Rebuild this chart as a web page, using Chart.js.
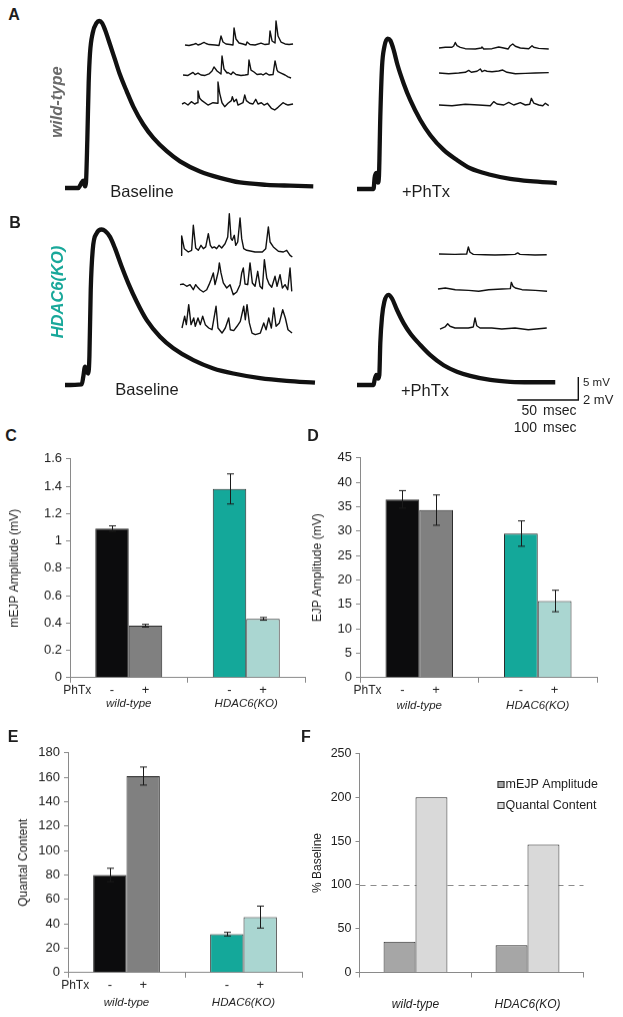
<!DOCTYPE html>
<html>
<head>
<meta charset="utf-8">
<title>HDAC6(KO) PhTx homeostasis</title>
<script src="https://cdn.jsdelivr.net/npm/chart.js@4.4.1/dist/chart.umd.min.js"></script>
<style>
  body { margin: 0; background: #fff; }
  #fig { position: relative; width: 623px; height: 1017px; overflow: hidden; background: #fff;
         font-family: 'Liberation Sans', Arial, sans-serif; color: #1e1e1e; }
  .box { position: absolute; }
  .box canvas { display: block; }
  .txt { position: absolute; white-space: nowrap; line-height: 1; }
</style>
</head>
<body>
<div id="fig"></div>
<script>
// ---- Datos: registros EJP (ms, mV) ----
const ejpWtBaseT = [0, 10.9, 12.3, 13.7, 15, 16.4, 17.2, 18.3, 19.4, 20.5, 22.7, 25.9, 28.1, 30.3, 32.8, 36.9, 41, 45.1, 50.6, 56, 64.2, 72.4, 83.4, 94.3, 110.7, 127, 143.4, 165.3, 184.4, 203.5];
const ejpWtBaseV = [0, 0, 0.5, 1.2, 1.6, 0.35, 1.2, 10.5, 22.8, 29.3, 33.7, 35.9, 36.3, 35.9, 34.4, 31.2, 27.9, 24.6, 21, 17.7, 13.8, 10.9, 8, 5.8, 3.6, 2.2, 1.2, 0.7, 0.5, 0.35];
const ejpWtPhtxT = [0, 13.6, 14.4, 15.8, 17.2, 18, 19.1, 20.5, 22.4, 25.1, 27.3, 30.1, 33.3, 38.3, 43.7, 51.9, 60.1, 71, 81.9, 92.8, 109.3, 125.6, 142, 163.8];
const ejpWtPhtxV = [0, 0, 2.4, 3.5, 1.4, 2.8, 15.7, 26.5, 30.9, 32.7, 32.3, 30.2, 26.9, 22.9, 19.3, 15, 11.7, 8.5, 6.3, 4.5, 3.1, 2.2, 1.7, 1.3];
const ejpKoBaseT = [0, 13.7, 15, 16.4, 17.8, 19.1, 20, 21.1, 22.7, 26, 30.1, 32.8, 36.9, 41, 46.5, 51.9, 58.8, 67, 77.9, 88.8, 105.2, 121.6, 138, 159.8, 181.7, 204.9];
const ejpKoBaseV = [0, 0.15, 1.8, 4, 2.9, 2.5, 6.2, 20.7, 29.3, 33, 33.8, 33.5, 32.2, 29.7, 25.7, 22.1, 18.1, 14.1, 10.5, 8, 5.4, 3.6, 2.5, 1.5, 0.9, 0.5];
const ejpKoPhtxT = [0, 13.6, 14.4, 15.8, 17.2, 18.3, 19.1, 20.5, 22.4, 25.9, 28.7, 32.8, 38.3, 43.7, 51.9, 60.1, 71, 81.9, 92.8, 109.3, 125.6, 142, 162.5];
const ejpKoPhtxV = [0, 0, 1.1, 2.2, 1.4, 2.2, 9.1, 14.8, 18.1, 19.6, 18.8, 16.3, 13.4, 11.2, 8.7, 6.5, 4.3, 2.9, 2, 1.1, 0.7, 0.6, 0.6];

// ---- Datos: registros mEJP (ms, mV) ----
const miniWtBase1T = [0, 6.6, 13.1, 18, 21.3, 26.2, 31.2, 34.4, 39.4, 49.2, 55.8, 59, 62.3, 67.2, 73.8, 78.7, 80.4, 83.6, 88.6, 95.1, 100, 101.7, 106.6, 114.8, 124.6, 131.2, 137.8, 139.4, 142.7, 147.6, 149.2, 152.5, 157.4, 164, 170.6, 177.1];
const miniWtBase1V = [0, -0.04, 0.04, 0.13, 0, 0.09, 0.22, 0.13, 0.04, 0, -0.04, 0.78, 0.26, 0.09, 0.04, 0, 1.48, 0.52, 0.17, 0.09, 0, 0.26, 0.04, 0, 0.17, 0.04, 0.09, 1.22, 0.35, 0.17, 2.09, 0.78, 0.26, 0.09, 0.04, 0.09];
const miniWtBase2T = [0, 8.2, 16.4, 19.7, 24.6, 29.5, 36.1, 42.6, 47.6, 50.8, 55.8, 62.3, 64, 67.2, 72.2, 73.8, 78.7, 82, 86.9, 95.1, 101.7, 106.6, 108.2, 111.5, 116.4, 121.4, 127.9, 131.2, 136.1, 141, 147.6, 150.9, 154.2, 155.8, 160.7, 167.3, 172.2, 177.1];
const miniWtBase2V = [0, -0.04, 0.23, 0.04, 0.17, 0, -0.04, 0.09, 0.35, 0.7, 0.35, 0.09, 1.65, 0.52, 0.17, 0.22, 0.04, 0.26, 0.04, -0.04, 0, 0.04, 1.3, 0.43, 0.26, 0.04, 0.09, 0, 0.17, 0, 0.04, 1.22, 0.43, 0.3, 0.17, 0, -0.17, -0.26];
const miniWtBase3T = [0, 4.4, 9.8, 15.3, 20.8, 25.1, 26.2, 29, 32.8, 42.6, 50.8, 57.9, 59, 61.8, 65.6, 70, 75.4, 80.9, 82.5, 85.3, 89.1, 91.8, 100, 102.8, 105.5, 111, 116.4, 120.9, 124.6, 130.1, 134.5, 139.9, 146.5, 152, 157.4, 165.6, 169.4, 173.8, 182];
const miniWtBase3V = [0, 0.11, -0.09, 0.2, 0, 0.11, 1.13, 0.5, 0.29, -0.09, 0.11, 0.06, 1.91, 0.93, 0.11, -0.23, 0.06, 0.29, 0.64, 0.2, 0.41, -0.09, 0.11, 0.78, 0.29, 0.06, 0, 0.41, 0, 0.11, -0.09, 0.06, -0.37, -0.52, -0.29, 0.11, 0, -0.09, 0];
const miniWtPhtx1T = [0, 10.3, 21.3, 24.1, 26.7, 29.5, 34.9, 43.1, 59.5, 69.4, 70.5, 73.3, 86.9, 97.9, 106.1, 113.2, 116.9, 120.9, 125.1, 133.3, 147.1, 152.5, 155.3, 163.5, 179.9];
const miniWtPhtx1V = [0, 0.06, 0.06, 0.17, 0.48, 0.2, 0.06, -0.06, -0.09, 0, 0.09, -0.09, -0.06, 0.09, 0, -0.09, 0.2, 0.35, 0.15, 0, -0.06, 0.2, 0.06, -0.03, -0.09];
const miniWtPhtx2T = [0, 15.9, 32.3, 43.1, 48.7, 53, 62.3, 67.7, 70.5, 74.9, 78.7, 86.9, 97.9, 104.5, 111.5, 125.1, 141.5, 157.9, 179.9];
const miniWtPhtx2V = [0, -0.06, 0, 0.06, 0.23, 0.06, 0.15, 0.35, 0.11, 0.23, 0.15, 0.11, 0.17, 0.26, 0.06, -0.06, -0.03, 0, 0.03];
const miniWtPhtx3T = [0, 21.3, 43.1, 65.1, 84.1, 89.7, 95.1, 106.1, 114.3, 122.5, 133.3, 141.5, 148.7, 151.4, 155.3, 163.5, 170.1, 174.3, 179.9];
const miniWtPhtx3V = [0, -0.06, 0.06, 0, -0.06, 0.29, 0.09, 0, 0.23, 0, 0.2, 0, 0.06, 0.58, 0.17, 0, -0.06, 0.15, -0.06];
const miniKoBase1T = [0, 1.1, 5.4, 12, 17.5, 20.2, 24.1, 28.4, 32.8, 36.6, 40.5, 44.8, 48.1, 51.3, 54.6, 58.5, 62.3, 66.7, 72.2, 76.6, 79.2, 82, 84.1, 87.4, 89.7, 93, 96.8, 99.5, 102.8, 107.7, 121.4, 133.3, 138.9, 143.2, 146, 151.4, 159.6, 167.8, 173.3, 178.8, 182.5];
const miniKoBase1V = [-0.29, 1.39, 0.29, 0, 0.15, 2.32, 0.35, 0.15, 0.58, 0.29, 0.44, 1.59, 0.58, 0.35, 0.44, 0.29, 0.58, 0.35, 0.72, 1.31, 3.33, 1.16, 1.02, 1.45, 0.58, 0.87, 2.96, 1.16, 0.29, 0.15, 0, 0, 0.29, 2.18, 0.87, 0.44, 0.06, 0, 0.15, -0.29, -0.44];
const miniKoBase2T = [0, 5.4, 11, 16.4, 21.8, 25.7, 29, 32.8, 38.2, 43.8, 47.6, 50.8, 54.6, 57.4, 60.2, 62.8, 64.5, 67.2, 71, 76.6, 82, 87.4, 93, 98.4, 101.2, 103.8, 106.6, 111, 114.8, 118.6, 123, 127.4, 131.2, 135, 138.3, 142.2, 146, 150.4, 155.8, 159.1, 164, 167.8, 172.2, 176.6, 180.4, 183.2];
const miniKoBase2V = [0.29, 0.35, 0.15, 0.29, -0.15, 0.29, 0.06, -0.15, -0.35, -0.15, 0.29, 0.72, 1.31, 0.29, 0.87, 1.45, 2.18, 1.31, 0.44, 0, 0.29, -0.58, -0.35, 0.29, 1.31, 1.74, 0.35, 0.29, 2.18, 0.44, 0.15, 1.45, 0.15, -0.06, 2.46, 0.87, 0.35, 0.06, 1.02, 0.15, 1.16, 0, 0.29, -0.15, 1.74, -0.29];
const miniKoBase3T = [0, 4.4, 7.1, 11, 14.8, 19.2, 21.8, 26.2, 30, 33.9, 38.2, 43.8, 49.2, 55.8, 59, 65.6, 71, 76.6, 79.2, 84.8, 90.2, 95.6, 101.2, 103.8, 106.6, 110.4, 114.8, 120.2, 128.4, 134, 137.8, 142.2, 146.5, 150.4, 154.2, 159.6, 165.1, 169.4, 173.8, 180.4];
const miniKoBase3V = [0, 1.02, 0.29, 2.03, 0.29, 0.87, 0.15, 0.87, 0.29, 1.02, 0.29, 0, -0.15, 1.89, 0, -0.44, 0, 0.87, -0.15, -0.23, 0.15, 0.58, 1.89, 0.72, 2.03, 0.44, -0.44, -0.58, -0.44, 0.44, -0.15, 0.87, 0, 1.74, 0.15, 0.44, 1.59, 0.87, -0.15, -0.44];
const miniKoPhtx1T = [0, 26.2, 45.4, 48.1, 50.8, 56.3, 75.4, 91.8, 108.2, 124.6, 129, 132.8, 157.4, 176.6];
const miniKoPhtx1V = [0, -0.03, 0, 0.61, 0.15, -0.03, -0.06, -0.09, -0.06, -0.03, 0.09, -0.03, -0.09, -0.06];
const miniKoPhtx2T = [0, 12, 28.4, 50.3, 66.7, 83.1, 105, 118.6, 120.2, 123, 126.8, 137.8, 159.6, 178.8];
const miniKoPhtx2V = [0, 0.09, -0.06, -0.12, -0.2, -0.06, 0, 0.03, 0.58, 0.23, 0.09, -0.06, -0.12, -0.2];
const miniKoPhtx3T = [0, 8.2, 12.6, 16.4, 24.6, 46.4, 54.6, 57.4, 60.2, 65.6, 84.8, 101.2, 123, 144.8, 175];
const miniKoPhtx3V = [-0.09, 0.09, 0.37, 0.15, 0, 0, 0.09, 0.87, 0.2, 0, 0, -0.09, 0, -0.15, 0];

// barras de escala
const scaleBarMs = 50;
const scaleBarMv = 5;

// ---- Datos: graficas de barras ----
const groups = ['wild-type', 'HDAC6(KO)'];
const phtxMarks = ['-', '+'];

const mejpCtrl = [1.09, 1.38];
const mejpPhtx = [0.38, 0.43];
const mejpCtrlErr = [0.02, 0.11];
const mejpPhtxErr = [0.01, 0.01];
const mejpTicks = [0, 0.2, 0.4, 0.6, 0.8, 1, 1.2, 1.4, 1.6];

const ejpCtrl = [36.5, 29.5];
const ejpPhtx = [34.3, 15.7];
const ejpCtrlErr = [1.8, 2.6];
const ejpPhtxErr = [3.1, 2.2];
const ejpTicks = [0, 5, 10, 15, 20, 25, 30, 35, 40, 45];

const qcCtrl = [80, 31.5];
const qcPhtx = [161, 45.5];
const qcCtrlErr = [5.5, 1.5];
const qcPhtxErr = [7.4, 9];
const qcTicks = [0, 20, 40, 60, 80, 100, 120, 140, 160, 180];

const pctMejp = [35, 31];
const pctQc = [200, 146];
const pctRef = 100;
const pctTicks = [0, 50, 100, 150, 200, 250];

const ctrlColors = ['#0c0c0d', '#14a89a'];
const phtxColors = ['#808080', '#aad6d1'];
const FONT = "'Liberation Sans', Arial, sans-serif";
const ink = '#1e1e1e';
const axisGray = '#8a8a8a';

Chart.defaults.font.family = FONT;
const fig = document.getElementById('fig');

// 1. Utilidades de posicionamiento
function addBox(l, t, w, h) {
    const box = document.createElement('div');
    box.className = 'box';
    box.appendChild(document.createElement('canvas'));
    fig.appendChild(box);
    setBox(box, l, t, w, h);
    return box;
}
function setBox(box, l, t, w, h) {
    box.style.left = l + 'px';
    box.style.top = t + 'px';
    box.style.width = w + 'px';
    box.style.height = h + 'px';
}
function addText(str, x, y, s) {
    const d = document.createElement('div');
    d.className = 'txt';
    d.textContent = str;
    d.style.left = x + 'px';
    d.style.top = y + 'px';
    d.style.fontSize = s.size + 'px';
    if (s.bold) d.style.fontWeight = 'bold';
    if (s.italic) d.style.fontStyle = 'italic';
    if (s.color) d.style.color = s.color;
    const sx = { c: '-50%', l: '0', r: '-100%' }[s.anchor || 'c'];
    d.style.transform = `translate(${sx},-50%)` + (s.rotate ? ' rotate(-90deg)' : '');
    fig.appendChild(d);
}

// 2. Trazos (EJP y mEJP) como graficas de linea sin ejes
function trace(t, v, width, smooth) {
    return {
        data: t.map((x, i) => ({ x, y: v[i] })),
        borderColor: '#111', borderWidth: width, pointRadius: 0, fill: false,
        tension: 0, cubicInterpolationMode: smooth ? 'monotone' : 'default',
        borderJoinStyle: 'round'
    };
}
function traceChart(rect, x0, y0, k, sets) {
    const box = addBox(rect.l, rect.t, rect.w, rect.h);
    new Chart(box.firstChild, {
        type: 'line',
        data: { datasets: sets },
        options: {
            responsive: true, maintainAspectRatio: false, animation: false, events: [],
            layout: { padding: 0 },
            plugins: { legend: { display: false }, tooltip: { enabled: false } },
            scales: {
                x: { type: 'linear', display: false, min: (rect.l - x0) / k.x, max: (rect.l + rect.w - x0) / k.x },
                y: { type: 'linear', display: false, min: (y0 - rect.t - rect.h) / k.y, max: (y0 - rect.t) / k.y }
            }
        }
    });
}

const EJP_K = { x: 1.22, y: 4.6 };     // px por ms, px por mV
const MINI_K = { x: 0.61, y: 11.5 };

const ejps = [
    { t: ejpWtBaseT, v: ejpWtBaseV, x0: 65, y0: 188.3 },
    { t: ejpWtPhtxT, v: ejpWtPhtxV, x0: 356.7, y0: 189.3 },
    { t: ejpKoBaseT, v: ejpKoBaseV, x0: 65, y0: 385 },
    { t: ejpKoPhtxT, v: ejpKoPhtxV, x0: 356.7, y0: 385, bar: true }
];
ejps.forEach(e => {
    const sets = [trace(e.t, e.v, 4.3, true)];
    if (e.bar) {
        // esquina de la barra de escala en (578, 400)
        const cT = (578 - e.x0) / EJP_K.x, cV = (e.y0 - 400) / EJP_K.y;
        sets.push({
            data: [{ x: cT - scaleBarMs, y: cV }, { x: cT, y: cV }, { x: cT, y: cV + scaleBarMv }],
            borderColor: '#111', borderWidth: 1.4, pointRadius: 0, tension: 0
        });
    }
    traceChart({ l: e.x0 - 6, t: e.y0 - 175, w: 260, h: 195 }, e.x0, e.y0, EJP_K, sets);
});

const minis = [
    { t: miniWtBase1T, v: miniWtBase1V, x0: 185, y0: 45 },
    { t: miniWtBase2T, v: miniWtBase2V, x0: 183, y0: 75.3 },
    { t: miniWtBase3T, v: miniWtBase3V, x0: 182, y0: 103.5 },
    { t: miniWtPhtx1T, v: miniWtPhtx1V, x0: 439, y0: 48 },
    { t: miniWtPhtx2T, v: miniWtPhtx2V, x0: 439, y0: 73.3 },
    { t: miniWtPhtx3T, v: miniWtPhtx3V, x0: 439, y0: 105 },
    { t: miniKoBase1T, v: miniKoBase1V, x0: 181, y0: 251.7 },
    { t: miniKoBase2T, v: miniKoBase2V, x0: 180, y0: 288.3 },
    { t: miniKoBase3T, v: miniKoBase3V, x0: 181.7, y0: 328.3 },
    { t: miniKoPhtx1T, v: miniKoPhtx1V, x0: 439, y0: 254.3 },
    { t: miniKoPhtx2T, v: miniKoPhtx2V, x0: 437.7, y0: 289.3 },
    { t: miniKoPhtx3T, v: miniKoPhtx3V, x0: 440, y0: 328.3 }
];
minis.forEach(m => {
    traceChart({ l: m.x0 - 4, t: m.y0 - 45, w: 122, h: 58 }, m.x0, m.y0, MINI_K, [trace(m.t, m.v, 1.4, false)]);
});

// 3. Graficas de barras
function decor(cfg) {
    return {
        id: 'decor',
        beforeDatasetsDraw(chart) {
            if (cfg.refLine == null) return;
            const { ctx, chartArea: ca, scales: { y } } = chart;
            const py = Math.round(y.getPixelForValue(cfg.refLine)) + 0.5;
            ctx.save();
            ctx.strokeStyle = '#8c8c8c';
            ctx.lineWidth = 1;
            ctx.setLineDash([6, 5]);
            ctx.beginPath();
            ctx.moveTo(ca.left, py);
            ctx.lineTo(ca.right, py);
            ctx.stroke();
            ctx.restore();
        },
        afterDatasetsDraw(chart) {
            const { ctx, chartArea: ca, scales: { y } } = chart;
            ctx.save();
            ctx.textAlign = 'center';
            ctx.textBaseline = 'middle';
            chart.data.datasets.forEach((ds, i) => {
                chart.getDatasetMeta(i).data.forEach((bar, j) => {
                    if (ds.err) {
                        const top = y.getPixelForValue(ds.data[j] + ds.err[j]);
                        const bot = y.getPixelForValue(ds.data[j] - ds.err[j]);
                        const x = Math.round(bar.x) + 0.5;
                        ctx.strokeStyle = '#1a1a1a';
                        ctx.lineWidth = 1;
                        ctx.beginPath();
                        ctx.moveTo(x, top); ctx.lineTo(x, bot);
                        ctx.moveTo(x - 3.5, top); ctx.lineTo(x + 3.5, top);
                        ctx.moveTo(x - 3.5, bot); ctx.lineTo(x + 3.5, bot);
                        ctx.stroke();
                    }
                    if (cfg.marks) {
                        ctx.fillStyle = ink;
                        ctx.font = '13px ' + FONT;
                        ctx.fillText(phtxMarks[i], bar.x, ca.bottom + 13);
                    }
                });
            });
            if (cfg.marks) {
                const first = chart.getDatasetMeta(0).data[0];
                ctx.textAlign = 'right';
                ctx.font = '12px ' + FONT;
                ctx.fillText('PhTx', first.x - first.width / 2 - 4, ca.bottom + 13);
            }
            if (cfg.legend) {
                ctx.textAlign = 'left';
                ctx.font = '12.5px ' + FONT;
                chart.data.datasets.forEach((ds, i) => {
                    const ly = ca.top + 31 + 21 * i;
                    ctx.fillStyle = ds.backgroundColor;
                    ctx.fillRect(ca.left + 138, ly - 3.5, 7, 7);
                    ctx.strokeStyle = '#333';
                    ctx.lineWidth = 1;
                    ctx.strokeRect(ca.left + 138.5, ly - 3, 6, 6);
                    ctx.fillStyle = ink;
                    ctx.fillText(ds.label, ca.left + 146, ly);
                });
            }
            ctx.restore();
        }
    };
}

function barChart(area, cfg) {
    const box = addBox(area.l - 70, area.t - 20, area.r - area.l + 110, area.b - area.t + 60);
    const chart = new Chart(box.firstChild, {
        type: 'bar',
        data: { labels: groups, datasets: cfg.datasets },
        options: {
            responsive: true, maintainAspectRatio: false, animation: false, events: [],
            layout: { padding: { top: 0, right: 30, left: 0, bottom: 0 } },
            plugins: { legend: { display: false }, tooltip: { enabled: false } },
            datasets: { bar: { barPercentage: 1, categoryPercentage: 0.57, borderWidth: 1, borderColor: '#2b2b2b' } },
            scales: {
                x: {
                    grid: { offset: true, drawOnChartArea: false, tickLength: 5, color: axisGray },
                    border: { color: axisGray },
                    ticks: { color: ink, padding: cfg.catPad, maxRotation: 0, autoSkip: false,
                             font: { family: FONT, size: cfg.catSize, style: 'italic' } }
                },
                y: {
                    min: 0, max: cfg.ticks[cfg.ticks.length - 1],
                    afterBuildTicks: s => { s.ticks = cfg.ticks.map(value => ({ value })); },
                    afterFit: s => { s.width = cfg.yWidth; },
                    grid: { drawOnChartArea: false, tickLength: 4, color: axisGray },
                    border: { color: axisGray },
                    ticks: { color: ink, padding: 4, font: { family: FONT, size: cfg.tickSize }, callback: v => String(v) },
                    title: { display: true, text: cfg.title, color: ink, padding: 0, font: { family: FONT, size: 12 } }
                }
            }
        },
        plugins: [decor(cfg)]
    });
    // ajustar el contenedor para que el area de la grafica caiga donde la figura
    const ca = chart.chartArea;
    const w = box.offsetWidth + (area.r - area.l) - (ca.right - ca.left);
    const h = box.offsetHeight + (area.b - area.t) - (ca.bottom - ca.top);
    setBox(box, area.l - ca.left, area.t - ca.top, w, h);
    chart.resize();
}

barChart({ l: 70, r: 305, t: 459, b: 677 }, {
    title: 'mEJP Amplitude (mV)', ticks: mejpTicks, yWidth: 63, tickSize: 13, catSize: 11.5, catPad: 14, marks: true,
    datasets: [
        { label: '-', data: mejpCtrl, err: mejpCtrlErr, backgroundColor: ctrlColors },
        { label: '+', data: mejpPhtx, err: mejpPhtxErr, backgroundColor: phtxColors }
    ]
});
barChart({ l: 360, r: 597, t: 458, b: 677 }, {
    title: 'EJP Amplitude (mV)', ticks: ejpTicks, yWidth: 50, tickSize: 13, catSize: 11.5, catPad: 16, marks: true,
    datasets: [
        { label: '-', data: ejpCtrl, err: ejpCtrlErr, backgroundColor: ctrlColors },
        { label: '+', data: ejpPhtx, err: ejpPhtxErr, backgroundColor: phtxColors }
    ]
});
barChart({ l: 68, r: 302, t: 753, b: 972 }, {
    title: 'Quantal Content', ticks: qcTicks, yWidth: 52, tickSize: 13, catSize: 11.5, catPad: 18, marks: true,
    datasets: [
        { label: '-', data: qcCtrl, err: qcCtrlErr, backgroundColor: ctrlColors },
        { label: '+', data: qcPhtx, err: qcPhtxErr, backgroundColor: phtxColors }
    ]
});
barChart({ l: 359, r: 583, t: 753, b: 972 }, {
    title: '% Baseline', ticks: pctTicks, yWidth: 49.5, tickSize: 12.5, catSize: 12, catPad: 20, legend: true, refLine: pctRef,
    datasets: [
        { label: 'mEJP Amplitude', data: pctMejp, backgroundColor: '#a6a6a6' },
        { label: 'Quantal Content', data: pctQc, backgroundColor: '#d9d9d9' }
    ]
});

// 4. Rotulos de la figura
const letter = { size: 16, bold: true };
addText('A', 14, 15, letter);
addText('B', 15, 223, letter);
addText('C', 11, 436, letter);
addText('D', 313, 436, letter);
addText('E', 13, 737, letter);
addText('F', 306, 737, letter);

addText('wild-type', 56, 102, { size: 16.5, bold: true, italic: true, color: '#6b6b6b', rotate: true });
addText('HDAC6(KO)', 57, 292, { size: 16.5, bold: true, italic: true, color: '#19a89a', rotate: true });

addText('Baseline', 142, 191, { size: 16.5 });
addText('+PhTx', 426, 191, { size: 16.5 });
addText('Baseline', 147, 389, { size: 16.5 });
addText('+PhTx', 425, 390, { size: 16.5 });

addText('5 mV', 583, 383, { size: 11.5, anchor: 'l' });
addText('2 mV', 583, 399, { size: 13, anchor: 'l' });
addText('50', 537, 410, { size: 14, anchor: 'r' });
addText('100', 537, 427, { size: 14, anchor: 'r' });
addText('msec', 543, 410, { size: 14, anchor: 'l' });
addText('msec', 543, 427, { size: 14, anchor: 'l' });
</script>
</body>
</html>
